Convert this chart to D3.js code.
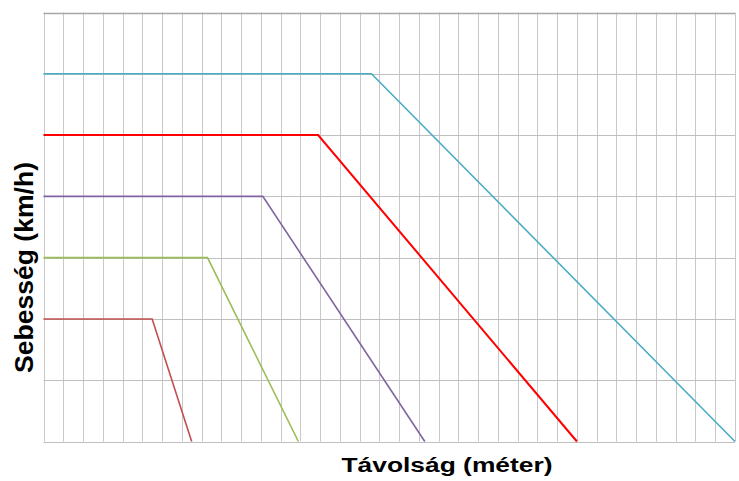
<!DOCTYPE html>
<html>
<head>
<meta charset="utf-8">
<script src="https://cdn.jsdelivr.net/npm/d3@7"></script>
<style>
  body { margin: 0; background: #fff; }
  svg { display: block; }
</style>
</head>
<body>
<div id="chart"></div>
<script>
// speeds (km/h) and distances (m)
const speeds = [40, 60, 80, 100, 120];
const reactionEnd = [27.5, 41.5, 55.5, 69.5, 83];   // flat part ends here
const stopDistance = [37.5, 64.5, 96.5, 135, 175];  // line reaches zero here
const colors = ["#c0504d", "#9bbb59", "#8064a2", "#ff0000", "#4bacc6"];
const xTicks = d3.range(0, 176, 5);
const yTicks = d3.range(0, 141, 20);

const width = 739, height = 481;
const margin = { top: 12.5, right: 4, bottom: 39.5, left: 43.5 };

const svg = d3.select("#chart").append("svg")
    .attr("width", width)
    .attr("height", height);

const x = d3.scaleLinear().domain([0, 175]).range([margin.left, width - margin.right]);
const y = d3.scaleLinear().domain([0, 140]).range([height - margin.bottom, margin.top]);

// vertical grid
svg.append("g")
    .selectAll("line")
    .data(xTicks)
    .enter().append("line")
    .attr("x1", d => Math.round(x(d)) + 0.5)
    .attr("x2", d => Math.round(x(d)) + 0.5)
    .attr("y1", y(140))
    .attr("y2", y(0))
    .attr("stroke", "#c8c8c8")
    .attr("stroke-width", 1);

// horizontal grid
svg.append("g")
    .selectAll("line")
    .data(yTicks)
    .enter().append("line")
    .attr("x1", x(0))
    .attr("x2", x(175))
    .attr("y1", d => Math.round(y(d)) + 0.5)
    .attr("y2", d => Math.round(y(d)) + 0.5)
    .attr("stroke", d => d === 140 ? "#a6a6a6" : "#bfbfbf")
    .attr("stroke-width", d => d === 140 ? 1.5 : 1.2);

// speed lines
const line = d3.line().x(d => x(d[0])).y(d => y(d[1]));
speeds.forEach((v, i) => {
    svg.append("path")
        .attr("d", line([[0, v], [reactionEnd[i], v], [stopDistance[i], 0]]))
        .attr("fill", "none")
        .attr("stroke", colors[i])
        .attr("stroke-width", i === 3 ? 2 : 1.6);
});

// axis titles
svg.append("text")
    .attr("x", 447)
    .attr("y", 472)
    .attr("text-anchor", "middle")
    .attr("font-family", "Liberation Sans, Arial, sans-serif")
    .attr("font-weight", "bold")
    .attr("font-size", "20px")
    .attr("textLength", 211)
    .attr("lengthAdjust", "spacingAndGlyphs")
    .attr("fill", "#000")
    .text("Távolság (méter)");

svg.append("text")
    .attr("transform", "translate(33, 267.5) rotate(-90)")
    .attr("text-anchor", "middle")
    .attr("font-family", "Liberation Sans, Arial, sans-serif")
    .attr("font-weight", "bold")
    .attr("font-size", "26px")
    .attr("textLength", 211)
    .attr("lengthAdjust", "spacingAndGlyphs")
    .attr("fill", "#000")
    .text("Sebesség (km/h)");
</script>
</body>
</html>
